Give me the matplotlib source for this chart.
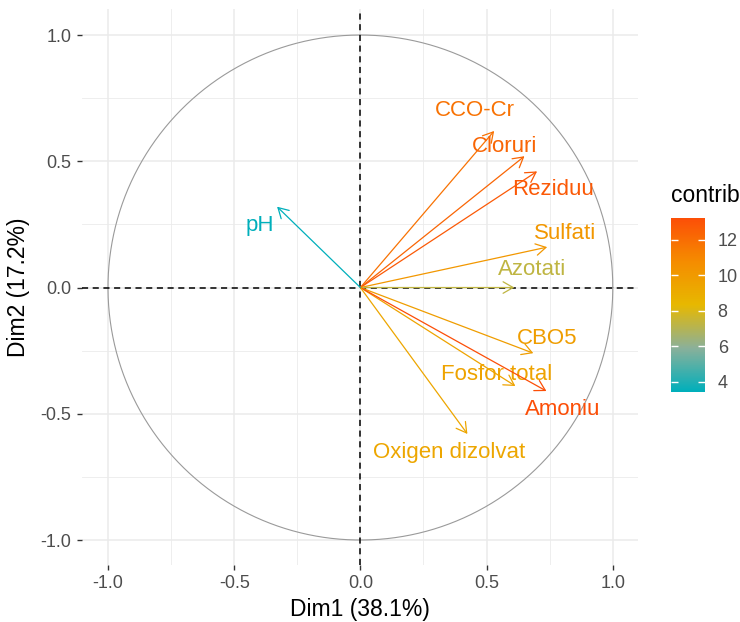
import numpy as np
import matplotlib.pyplot as plt
from matplotlib.colors import LinearSegmentedColormap, Normalize

plt.rcParams['font.family'] = ['Liberation Sans', 'DejaVu Sans']

# --- data ---
variables = ["CCO-Cr", "Cloruri", "Reziduu", "Sulfati", "Azotati",
             "CBO5", "Fosfor total", "Amoniu", "Oxigen dizolvat", "pH"]
dim1 = [0.53, 0.65, 0.70, 0.74, 0.61, 0.685, 0.614, 0.737, 0.424, -0.33]
dim2 = [0.62, 0.52, 0.46, 0.16, 0.0, -0.26, -0.39, -0.41, -0.58, 0.32]
contrib = [11.8, 12.3, 12.8, 10.2, 7.3, 9.8, 9.5, 13.24, 9.3, 3.44]
# label positions (after repel)
lab_x = [0.455, 0.57, 0.765, 0.81, 0.68, 0.74, 0.54, 0.80, 0.35, -0.40]
lab_y = [0.70, 0.56, 0.39, 0.215, 0.07, -0.20, -0.345, -0.485, -0.655, 0.245]

xlabel = "Dim1 (38.1%)"
ylabel = "Dim2 (17.2%)"
ticks = [-1.0, -0.5, 0.0, 0.5, 1.0]
cbar_ticks = [4, 6, 8, 10, 12]

cmap = LinearSegmentedColormap.from_list(
    "contrib", [(0.0, "#00AFBB"), (0.25, "#8AB09A"), (0.5, "#E7B800"),
                (0.75, "#F58C00"), (1.0, "#FC4E07")])
norm = Normalize(vmin=min(contrib), vmax=max(contrib))

fig = plt.figure(figsize=(7.4, 6.22), dpi=100)
ax = fig.add_axes([0.1108, 0.0916, 0.7514, 0.8939])

# grid (theme_minimal)
minor = np.arange(-1.0, 1.01, 0.25)
ax.set_xticks(minor, minor=True)
ax.set_yticks(minor, minor=True)
ax.grid(True, which="major", color="#EBEBEB", linewidth=1.1)
ax.grid(True, which="minor", color="#EBEBEB", linewidth=0.6)
ax.set_axisbelow(True)
for s in ax.spines.values():
    s.set_visible(False)

# correlation circle
t = np.linspace(0, 2 * np.pi, 400)
ax.plot(np.cos(t), np.sin(t), color="#9A9A9A", linewidth=0.8)
ax.axhline(0, color="black", linestyle=(0, (4, 3)), linewidth=1.1)
ax.axvline(0, color="black", linestyle=(0, (4, 3)), linewidth=1.1)

for name, x, y, c, lx, ly in zip(variables, dim1, dim2, contrib, lab_x, lab_y):
    col = cmap(norm(c))
    ax.annotate("", xy=(x, y), xytext=(0, 0),
                arrowprops=dict(arrowstyle="->,head_length=0.4,head_width=0.23",
                                color=col, lw=0.9, shrinkA=0, shrinkB=0,
                                mutation_scale=18))
    ax.text(lx, ly, name, color=col, fontsize=16, ha="center", va="center")

ax.set_xlim(-1.103, 1.10)
ax.set_ylim(-1.099, 1.103)
ax.set_xticks(ticks)
ax.set_yticks(ticks)
ax.set_xticklabels([f"{v:.1f}" for v in ticks])
ax.set_yticklabels([f"{v:.1f}" for v in ticks])
ax.tick_params(which="major", length=3.5, width=1, color="#333333",
               labelsize=13, labelcolor="#4D4D4D", pad=4)
ax.tick_params(which="minor", length=0)
ax.set_xlabel(xlabel, fontsize=16.5, labelpad=4)
ax.set_ylabel(ylabel, fontsize=16.5, labelpad=8)

# colour bar legend
cax = fig.add_axes([0.907, 0.370, 0.046, 0.280])
sm = plt.cm.ScalarMappable(norm=norm, cmap=cmap)
cb = fig.colorbar(sm, cax=cax, ticks=cbar_ticks)
cb.outline.set_visible(False)
cax.tick_params(direction="in", color="white", length=5, width=1,
                left=True, right=True, labelsize=13, labelcolor="#4D4D4D", pad=9)
fig.text(0.907, 0.686, "contrib", fontsize=16.5, ha="left", va="center")

fig.savefig("out.png", dpi=100)
